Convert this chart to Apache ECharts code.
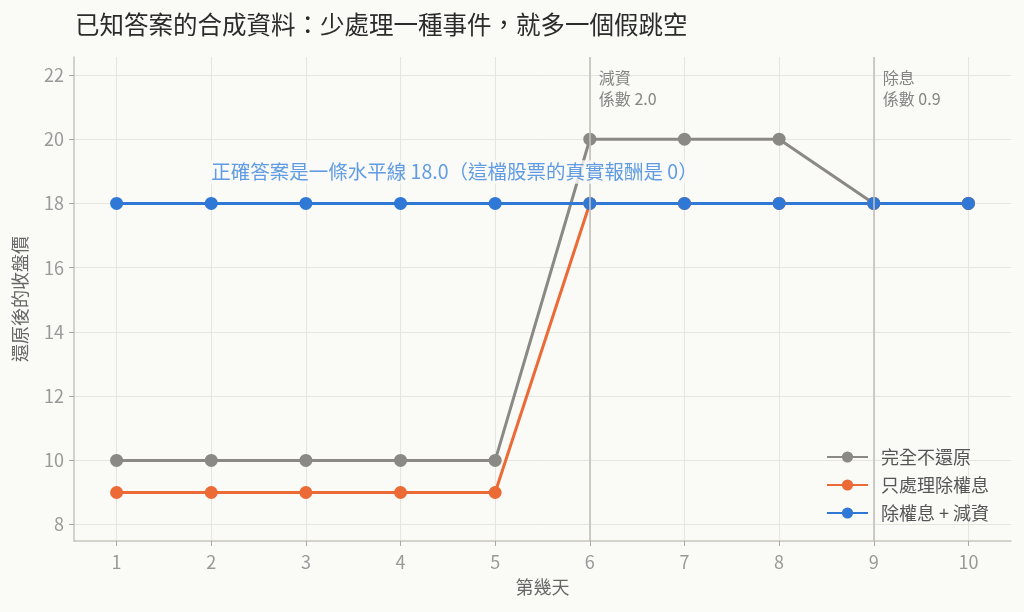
<!DOCTYPE html>
<html lang="zh-Hant" style="height: 100%">
<head>
    <meta charset="utf-8">
</head>
<body style="height: 100%; margin: 0; background: #fafaf7">
<div id="container" style="width: 1024px; height: 612px"></div>
<script src="https://cdn.jsdelivr.net/npm/echarts@6/dist/echarts.min.js"></script>
<script type="text/javascript">
    // 資料
    var days = [1, 2, 3, 4, 5, 6, 7, 8, 9, 10];
    var rawClose = [10, 10, 10, 10, 10, 20, 20, 20, 18, 18];
    var divOnly = [9, 9, 9, 9, 9, 18, 18, 18, 18, 18];
    var fullAdj = [18, 18, 18, 18, 18, 18, 18, 18, 18, 18];
    var yTicks = [8, 10, 12, 14, 16, 18, 20, 22];
    var eventDays = [6, 9];
    var eventLabels = ['減資\n係數 2.0', '除息\n係數 0.9'];
    var seriesNames = ['完全不還原', '只處理除權息', '除權息 + 減資'];
    var colors = ['#8a8983', '#eb6a35', '#2f78d6'];
    var noteText = '正確答案是一條水平線 18.0（這檔股票的真實報酬是 0）';
    var notePos = [2, 18.98];

    var font = '"Noto Sans CJK TC", "Noto Sans", sans-serif';
    var bg = '#fafaf7';

    function pairs(values) {
        return days.map(function (d, i) { return [d, values[i]]; });
    }

    function lineSeries(name, values, color) {
        return {
            name: name,
            type: 'line',
            data: pairs(values),
            symbol: 'circle',
            symbolSize: 13,
            z: 3,
            lineStyle: { color: color, width: 3 },
            itemStyle: { color: color },
            emphasis: { disabled: true }
        };
    }

    var chart = echarts.init(document.getElementById('container'));

    var option = {
        backgroundColor: bg,
        animation: false,
        textStyle: { fontFamily: font },
        title: {
            text: '已知答案的合成資料：少處理一種事件，就多一個假跳空',
            left: 70,
            top: 7,
            textStyle: { fontSize: 24.5, fontWeight: 'normal', color: '#2b2b2b', fontFamily: font }
        },
        grid: { left: 74, right: 13, top: 57, bottom: 71 },
        legend: {
            data: seriesNames,
            orient: 'vertical',
            left: 821,
            top: 443,
            itemWidth: 41,
            itemHeight: 14,
            itemGap: 10,
            textStyle: { fontSize: 18, color: '#555', fontFamily: font, padding: [0, 0, 0, 8] }
        },
        xAxis: {
            type: 'value',
            min: 0.55,
            max: 10.45,
            name: '第幾天',
            nameLocation: 'middle',
            nameGap: 37,
            nameTextStyle: { fontSize: 18, color: '#666' },
            axisLine: { lineStyle: { color: '#c6c5bd', width: 1.5 } },
            axisTick: { show: true, length: 5, lineStyle: { color: '#aaa9a2' }, customValues: days },
            axisLabel: { fontSize: 18, color: '#999', margin: 12, customValues: days },
            splitLine: { show: true, lineStyle: { color: '#e5e4dd', width: 1 } }
        },
        yAxis: {
            type: 'value',
            min: 7.49,
            max: 22.56,
            name: '還原後的收盤價',
            nameLocation: 'middle',
            nameGap: 45,
            nameTextStyle: { fontSize: 18, color: '#666' },
            axisLine: { show: true, lineStyle: { color: '#c6c5bd', width: 1.5 } },
            axisTick: { show: true, length: 5, lineStyle: { color: '#aaa9a2' }, customValues: yTicks },
            axisLabel: { fontSize: 18, color: '#999', margin: 10, customValues: yTicks },
            splitLine: { show: true, lineStyle: { color: '#e5e4dd', width: 1 } }
        },
        series: [
            {
                name: 'events',
                type: 'line',
                data: [],
                z: 1,
                markLine: {
                    silent: true,
                    symbol: 'none',
                    label: { show: false },
                    lineStyle: { color: '#c2c1b9', width: 1.6, type: 'solid' },
                    data: eventDays.map(function (d) { return { xAxis: d }; })
                }
            },
            lineSeries(seriesNames[0], rawClose, colors[0]),
            lineSeries(seriesNames[1], divOnly, colors[1]),
            lineSeries(seriesNames[2], fullAdj, colors[2]),
            {
                name: 'eventText',
                type: 'scatter',
                symbolSize: 0,
                z: 5,
                silent: true,
                data: eventDays.map(function (d, i) {
                    return { value: [d, 22.56], label: { formatter: eventLabels[i] } };
                }),
                label: {
                    show: true,
                    position: [9, 10],
                    align: 'left',
                    verticalAlign: 'top',
                    fontSize: 16,
                    lineHeight: 21,
                    color: '#666'
                }
            },
            {
                name: 'note',
                type: 'scatter',
                symbolSize: 0,
                z: 6,
                silent: true,
                data: [{ value: notePos, label: { formatter: noteText } }],
                label: {
                    show: true,
                    position: 'right',
                    distance: 0,
                    offset: [-4, 0],
                    fontSize: 19.5,
                    color: '#3a84dc',
                    backgroundColor: bg,
                    padding: [2, 4]
                }
            }
        ]
    };

    chart.setOption(option);
</script>
</body>
</html>
